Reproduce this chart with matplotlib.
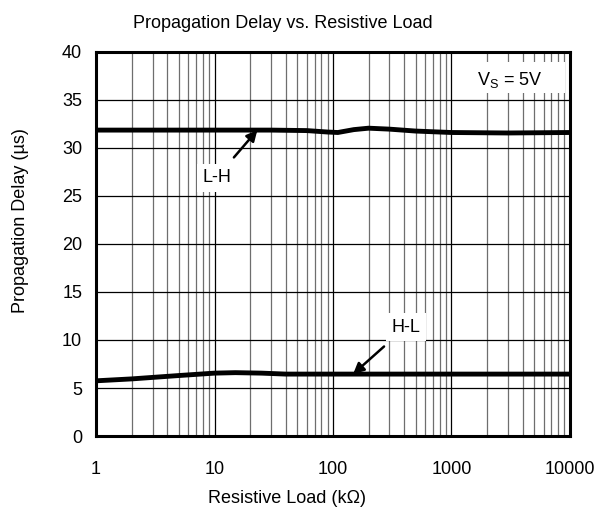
import matplotlib
matplotlib.use("Agg")
import matplotlib.pyplot as plt
import numpy as np
from matplotlib.patches import Rectangle
from matplotlib.ticker import FixedLocator, LogLocator, NullFormatter

plt.rcParams['font.family'] = ['Liberation Sans', 'DejaVu Sans']

# Data
load_lh = [1, 10, 30, 60, 90, 110, 150, 200, 300, 500, 1000, 3000, 10000]
delay_lh = [31.85, 31.85, 31.85, 31.8, 31.65, 31.6, 31.9, 32.05, 31.95, 31.75, 31.6, 31.55, 31.6]

load_hl = [1, 2, 5, 10, 15, 25, 40, 100, 1000, 10000]
delay_hl = [5.75, 5.95, 6.3, 6.55, 6.6, 6.55, 6.45, 6.45, 6.45, 6.45]

x_ticks = [1, 10, 100, 1000, 10000]
y_ticks = [0, 5, 10, 15, 20, 25, 30, 35, 40]

fig = plt.figure(figsize=(6.12, 5.13), dpi=100)
ax = fig.add_axes([0.157, 0.150, 0.774, 0.749])

ax.set_xscale('log')
ax.set_xlim(1, 10000)
ax.set_ylim(0, 40)
ax.xaxis.set_major_locator(FixedLocator(x_ticks))
ax.xaxis.set_minor_locator(LogLocator(base=10, subs=np.arange(2, 10)))
ax.xaxis.set_minor_formatter(NullFormatter())
ax.set_xticklabels([str(v) for v in x_ticks])
ax.set_yticks(y_ticks)

ax.grid(True, which='major', color='black', linewidth=0.9)
ax.grid(True, which='minor', axis='x', color='#6e6e6e', linewidth=0.9)
ax.tick_params(which='both', length=0, labelsize=13)
ax.tick_params(axis='x', pad=18)
ax.tick_params(axis='y', pad=10)
for s in ax.spines.values():
    s.set_linewidth(2.2)

ax.plot(load_lh, delay_lh, color='black', linewidth=3.5, solid_capstyle='butt', zorder=3)
ax.plot(load_hl, delay_hl, color='black', linewidth=3.5, solid_capstyle='butt', zorder=3)

box = dict(boxstyle='square,pad=0.3', facecolor='white', edgecolor='none')
arrow = dict(arrowstyle='-|>', color='black', lw=1.8, mutation_scale=16, shrinkA=6, shrinkB=0)
ax.annotate('L-H', xy=(23, 31.85), xytext=(10.4, 26.9), fontsize=13, ha='center', va='center',
            bbox=box, arrowprops=arrow, zorder=4)
ax.annotate('H-L', xy=(148, 6.45), xytext=(413, 11.35), fontsize=13, ha='center', va='center',
            bbox=box, arrowprops=arrow, zorder=4)

# white box behind the supply-voltage note (grid line at 35 stays visible)
ax.add_patch(Rectangle((0.757, 0.892), 0.232, 0.082, transform=ax.transAxes,
                       facecolor='white', edgecolor='none', zorder=2.5))
ax.text(3100, 37.1, r'V$_\mathregular{S}$ = 5V', fontsize=13, ha='center', va='center', zorder=5)

ax.set_title('Propagation Delay vs. Resistive Load', fontsize=13, pad=17, x=0.395)
ax.set_xlabel('Resistive Load (k\u03a9)', fontsize=13)
ax.set_ylabel('Propagation Delay (\u00b5s)', fontsize=13)
ax.xaxis.set_label_coords(0.403, -0.141)
ax.yaxis.set_label_coords(-0.141, 0.56)

fig.savefig('out.png', dpi=100)
